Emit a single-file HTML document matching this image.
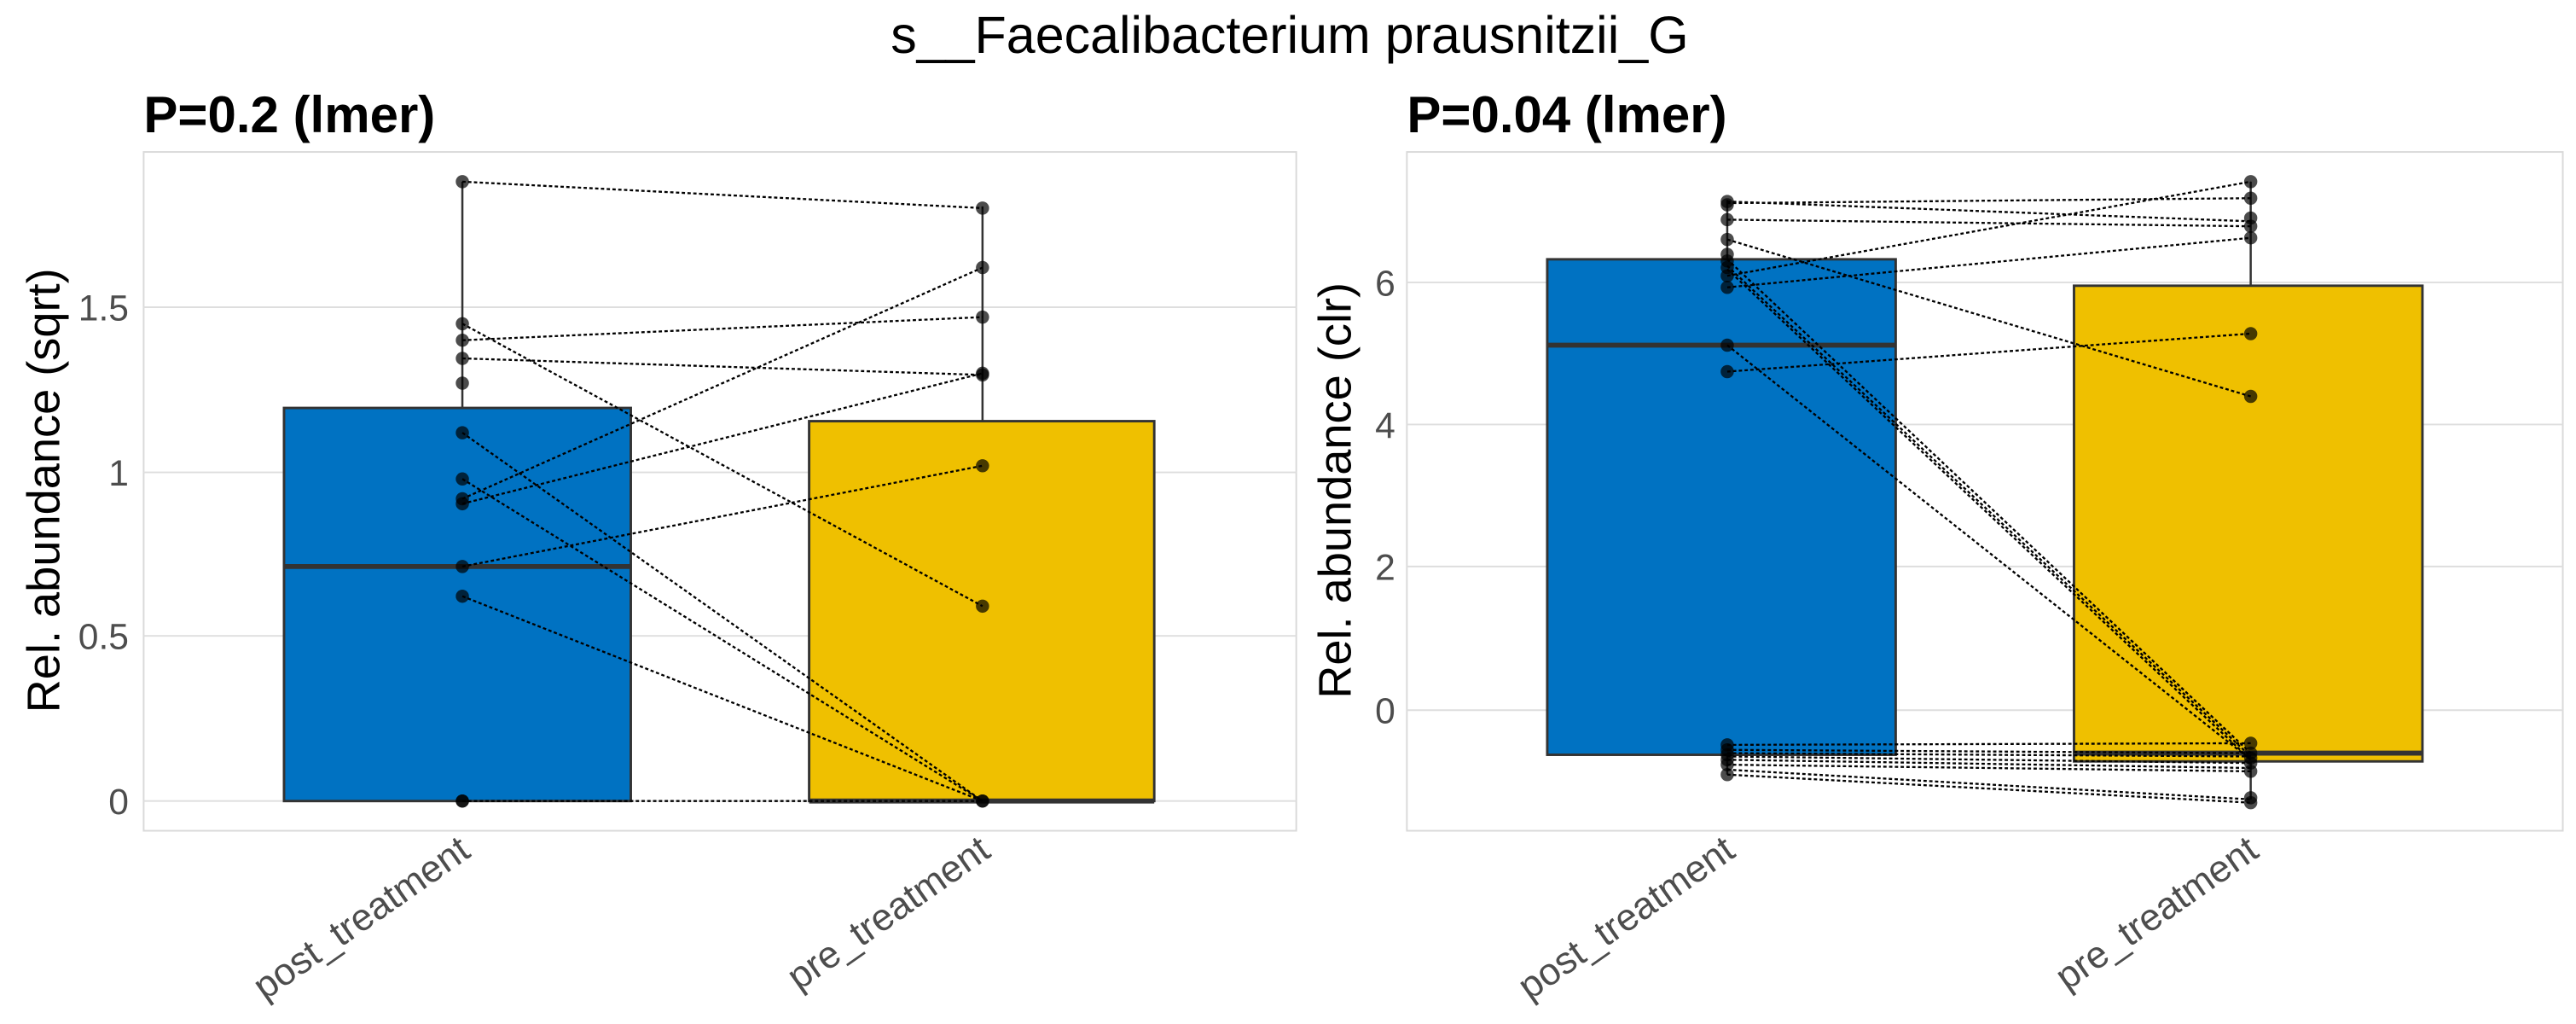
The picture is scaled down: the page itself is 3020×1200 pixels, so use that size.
<!DOCTYPE html>
<html><head><meta charset="utf-8"><style>
html,body{margin:0;padding:0;background:#fff;}
svg{display:block;}
text{font-family:"Liberation Sans",sans-serif;}
</style></head><body>
<svg width="3020" height="1200" viewBox="0 0 1560 620" preserveAspectRatio="none" xmlns="http://www.w3.org/2000/svg">
<rect width="1560" height="620" fill="#fff"/>
<text x="781" y="32" font-size="31.5" text-anchor="middle" fill="#000">s__Faecalibacterium prausnitzii_G</text>

<!-- LEFT PANEL -->
<text x="87" y="80" font-size="31" font-weight="bold" fill="#000">P=0.2 (lmer)</text>
<rect x="87" y="92" width="698" height="411" fill="none" stroke="#d9d9d9" stroke-width="1"/>
<g stroke="#dedede" stroke-width="1">
<line x1="87" x2="785" y1="485" y2="485"/><line x1="87" x2="785" y1="385" y2="385"/>
<line x1="87" x2="785" y1="286" y2="286"/><line x1="87" x2="785" y1="186" y2="186"/>
</g>
<g font-size="22" fill="#4d4d4d" text-anchor="end">
<text x="78" y="493">0</text><text x="78" y="393">0.5</text><text x="78" y="294">1</text><text x="78" y="194">1.5</text>
</g>
<text transform="translate(36,297) rotate(-90)" font-size="28" text-anchor="middle" fill="#000">Rel. abundance (sqrt)</text>
<g stroke="#333" stroke-width="1.3">
<line x1="280" x2="280" y1="110" y2="247"/><line x1="595" x2="595" y1="125" y2="255"/>
</g>
<rect x="172" y="247" width="210" height="238" fill="#0072c2" stroke="#333" stroke-width="1.5"/>
<line x1="172" x2="382" y1="343" y2="343" stroke="#333" stroke-width="3"/>
<rect x="490" y="255" width="209" height="230" fill="#efc000" stroke="#333" stroke-width="1.5"/>
<line x1="490" x2="699" y1="485" y2="485" stroke="#333" stroke-width="3"/>
<g stroke="#000" stroke-width="1.2" stroke-dasharray="2,1.5" fill="none">
<line x1="280" y1="110" x2="595" y2="126"/>
<line x1="280" y1="196" x2="595" y2="367"/>
<line x1="280" y1="206" x2="595" y2="192"/>
<line x1="280" y1="217" x2="595" y2="227"/>
<line x1="280" y1="262" x2="595" y2="485"/>
<line x1="280" y1="290" x2="595" y2="485"/>
<line x1="280" y1="302" x2="595" y2="162"/>
<line x1="280" y1="305" x2="595" y2="226"/>
<line x1="280" y1="343" x2="595" y2="282"/>
<line x1="280" y1="361" x2="595" y2="485"/>
<line x1="280" y1="485" x2="595" y2="485"/>
</g>
<g fill="#000" fill-opacity="0.7">
<circle cx="280" cy="110" r="4"/><circle cx="280" cy="196" r="4"/><circle cx="280" cy="206" r="4"/><circle cx="280" cy="217" r="4"/><circle cx="280" cy="232" r="4"/><circle cx="280" cy="262" r="4"/><circle cx="280" cy="290" r="4"/><circle cx="280" cy="302" r="4"/><circle cx="280" cy="305" r="4"/><circle cx="280" cy="343" r="4"/><circle cx="280" cy="361" r="4"/><circle cx="280" cy="485" r="4"/><circle cx="280" cy="485" r="4"/>
<circle cx="595" cy="126" r="4"/><circle cx="595" cy="162" r="4"/><circle cx="595" cy="192" r="4"/><circle cx="595" cy="226" r="4"/><circle cx="595" cy="227" r="4"/><circle cx="595" cy="282" r="4"/><circle cx="595" cy="367" r="4"/><circle cx="595" cy="485" r="4"/><circle cx="595" cy="485" r="4"/>
</g>
<g font-size="23" fill="#4d4d4d" text-anchor="end">
<text transform="translate(286,518) rotate(-35)">post_treatment</text>
<text transform="translate(601,518) rotate(-35)">pre_treatment</text>
</g>

<!-- RIGHT PANEL -->
<text x="852" y="80" font-size="31" font-weight="bold" fill="#000">P=0.04 (lmer)</text>
<rect x="852" y="92" width="700" height="411" fill="none" stroke="#d9d9d9" stroke-width="1"/>
<g stroke="#dedede" stroke-width="1">
<line x1="852" x2="1552" y1="430" y2="430"/><line x1="852" x2="1552" y1="343" y2="343"/>
<line x1="852" x2="1552" y1="257" y2="257"/><line x1="852" x2="1552" y1="171" y2="171"/>
</g>
<g font-size="22" fill="#4d4d4d" text-anchor="end">
<text x="845" y="438">0</text><text x="845" y="351">2</text><text x="845" y="265">4</text><text x="845" y="179">6</text>
</g>
<text transform="translate(818,297) rotate(-90)" font-size="28" text-anchor="middle" fill="#000">Rel. abundance (clr)</text>
<g stroke="#333" stroke-width="1.3">
<line x1="1046" x2="1046" y1="121" y2="157"/><line x1="1363" x2="1363" y1="110" y2="173"/>
<line x1="1046" x2="1046" y1="457" y2="469"/><line x1="1363" x2="1363" y1="461" y2="484"/>
</g>
<rect x="937" y="157" width="211" height="300" fill="#0072c2" stroke="#333" stroke-width="1.5"/>
<line x1="937" x2="1148" y1="209" y2="209" stroke="#333" stroke-width="3"/>
<rect x="1256" y="173" width="211" height="288" fill="#efc000" stroke="#333" stroke-width="1.5"/>
<line x1="1256" x2="1467" y1="456" y2="456" stroke="#333" stroke-width="3"/>
<g stroke="#000" stroke-width="1.2" stroke-dasharray="2,1.5" fill="none">
<line x1="1046" y1="122" x2="1363" y2="134"/>
<line x1="1046" y1="123" x2="1363" y2="120"/>
<line x1="1046" y1="133" x2="1363" y2="137"/>
<line x1="1046" y1="145" x2="1363" y2="240"/>
<line x1="1046" y1="167" x2="1363" y2="110"/>
<line x1="1046" y1="174" x2="1363" y2="144"/>
<line x1="1046" y1="157" x2="1363" y2="456"/>
<line x1="1046" y1="161" x2="1363" y2="458"/>
<line x1="1046" y1="163" x2="1363" y2="460"/>
<line x1="1046" y1="209" x2="1363" y2="460"/>
<line x1="1046" y1="225" x2="1363" y2="202"/>
<line x1="1046" y1="451" x2="1363" y2="450"/>
<line x1="1046" y1="454" x2="1363" y2="456"/>
<line x1="1046" y1="456" x2="1363" y2="458"/>
<line x1="1046" y1="458" x2="1363" y2="462"/>
<line x1="1046" y1="460" x2="1363" y2="465"/>
<line x1="1046" y1="463" x2="1363" y2="467"/>
<line x1="1046" y1="466" x2="1363" y2="484"/>
<line x1="1046" y1="469" x2="1363" y2="486"/>
</g>
<g fill="#000" fill-opacity="0.7">
<circle cx="1046" cy="122" r="4"/><circle cx="1046" cy="124" r="4"/><circle cx="1046" cy="133" r="4"/><circle cx="1046" cy="145" r="4"/><circle cx="1046" cy="154" r="4"/><circle cx="1046" cy="158" r="4"/><circle cx="1046" cy="162" r="4"/><circle cx="1046" cy="167" r="4"/><circle cx="1046" cy="174" r="4"/><circle cx="1046" cy="209" r="4"/><circle cx="1046" cy="225" r="4"/>
<circle cx="1046" cy="451" r="4"/><circle cx="1046" cy="454" r="4"/><circle cx="1046" cy="457" r="4"/><circle cx="1046" cy="460" r="4"/><circle cx="1046" cy="463" r="4"/><circle cx="1046" cy="469" r="4"/>
<circle cx="1363" cy="110" r="4"/><circle cx="1363" cy="120" r="4"/><circle cx="1363" cy="132" r="4"/><circle cx="1363" cy="137" r="4"/><circle cx="1363" cy="144" r="4"/><circle cx="1363" cy="202" r="4"/><circle cx="1363" cy="240" r="4"/>
<circle cx="1363" cy="450" r="4"/><circle cx="1363" cy="456" r="4"/><circle cx="1363" cy="459" r="4"/><circle cx="1363" cy="462" r="4"/><circle cx="1363" cy="467" r="4"/><circle cx="1363" cy="483" r="4"/><circle cx="1363" cy="486" r="4"/>
</g>
<g font-size="23" fill="#4d4d4d" text-anchor="end">
<text transform="translate(1052,518) rotate(-35)">post_treatment</text>
<text transform="translate(1369,518) rotate(-35)">pre_treatment</text>
</g>
</svg>
</body></html>
